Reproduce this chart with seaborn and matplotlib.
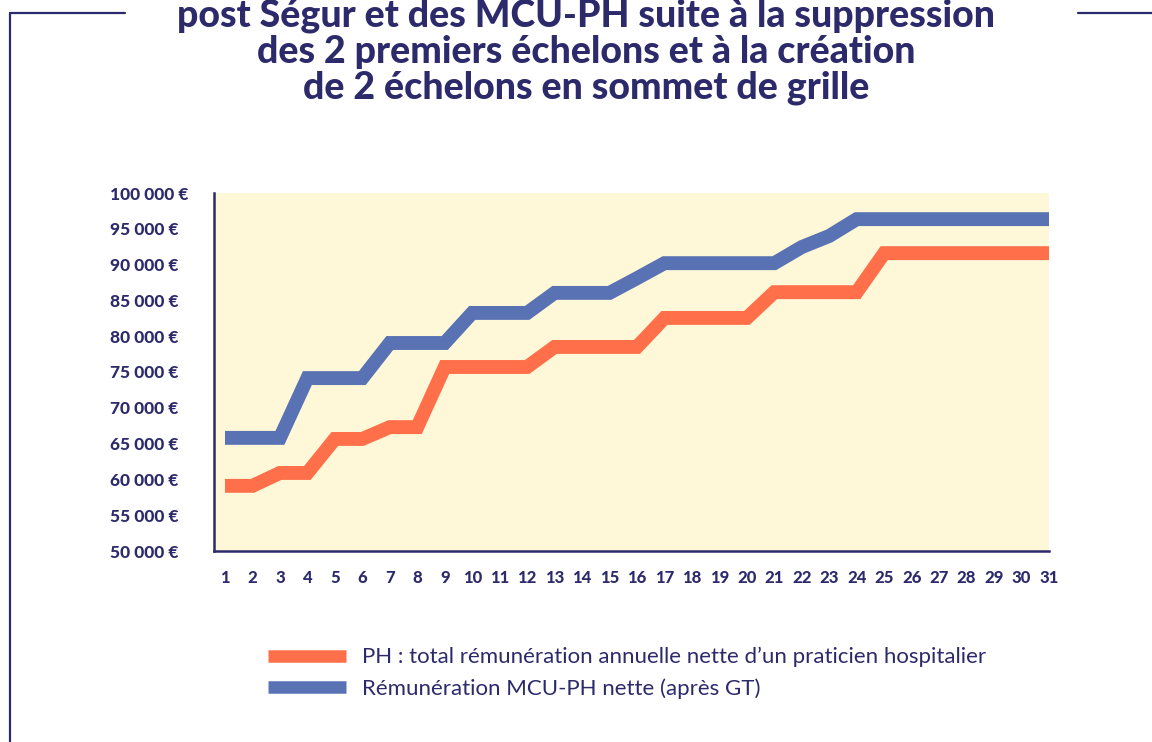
import numpy as np
import pandas as pd
import matplotlib
matplotlib.use("Agg")
import matplotlib.pyplot as plt
from matplotlib.lines import Line2D
import seaborn as sb

# donnees
echelons = list(range(1, 32))
ph = [59100, 59100, 60900, 60900, 65650, 65650, 67300, 67300,
      75700, 75700, 75700, 75700, 78500, 78500, 78500, 78500,
      82550, 82550, 82550, 82550, 86150, 86150, 86150, 86150,
      91600, 91600, 91600, 91600, 91600, 91600, 91600]
mcu = [65800, 65800, 65800, 74150, 74150, 74150, 79050, 79050, 79050,
       83250, 83250, 83250, 86050, 86050, 86050, 88100,
       90200, 90200, 90200, 90200, 90200, 92450, 94000,
       96350, 96350, 96350, 96350, 96350, 96350, 96350, 96350]
y_ticks = [50000, 55000, 60000, 65000, 70000, 75000, 80000, 85000, 90000, 95000, 100000]
lab_ph = "PH : total rémunération annuelle nette d\u2019un praticien hospitalier"
lab_mcu = "Rémunération MCU-PH nette (après GT)"
titre = ("post Ségur et des MCU-PH suite à la suppression\n"
         "des 2 premiers échelons et à la création\n"
         "de 2 échelons en sommet de grille")

navy = "#2c2a6b"
rouge = "#ff6f4a"
bleu = "#5872b4"

df = pd.DataFrame({"echelon": echelons * 2,
                   "valeur": ph + mcu,
                   "serie": [lab_ph] * len(ph) + [lab_mcu] * len(mcu)})

sb.set_style("white")
plt.rcParams['font.family'] = ['Lato', 'DejaVu Sans']

fig = plt.figure(figsize=(11.52, 7.42), dpi=100)
ax = fig.add_axes([214/1152, 1-551/742, (1049-214)/1152, (551-193)/742])
ax.set_facecolor("#fff8d8")

sb.lineplot(data=df, x="echelon", y="valeur", hue="serie",
            palette={lab_ph: rouge, lab_mcu: bleu}, linewidth=10,
            legend=False, ax=ax, sort=False)
for l in ax.lines:
    l.set_solid_joinstyle("miter")
    l.set_solid_capstyle("butt")

ax.set_xlim(0.6, 31)
ax.set_ylim(50000, 100000)
ax.set_xticks(echelons)
ax.set_xticklabels([str(e) for e in echelons], fontsize=12, fontweight="black", color=navy)
ax.set_yticks(y_ticks)
ax.set_yticklabels([f"{v:,} €".replace(",", " ") for v in y_ticks],
                   fontsize=12.5, fontweight="black", color=navy)
ax.tick_params(axis="both", length=0)
ax.tick_params(axis="x", pad=14)
for lab in ax.get_yticklabels():
    lab.set_horizontalalignment("left")
ax.yaxis.set_tick_params(pad=75)
ax.set_xlabel("")
ax.set_ylabel("")
for s in ["top", "right"]:
    ax.spines[s].set_visible(False)
for s in ["left", "bottom"]:
    ax.spines[s].set_color(navy)
    ax.spines[s].set_linewidth(1.8)

# cadre autour du graphique
fig.add_artist(Line2D([10/1152, 125/1152], [1-13/742, 1-13/742], color=navy, lw=1.6))
fig.add_artist(Line2D([10/1152, 10/1152], [1-13/742, 0], color=navy, lw=1.6))
fig.add_artist(Line2D([1078/1152, 1], [1-13/742, 1-13/742], color=navy, lw=1.6))

fig.text(586/1152, 1-52/742, titre, ha="center", va="center", fontsize=27,
         fontweight="black", color=navy, linespacing=1.07, multialignment="center")

handles = [Line2D([], [], color=rouge, lw=9, solid_capstyle="butt"),
           Line2D([], [], color=bleu, lw=9, solid_capstyle="butt")]
fig.legend(handles, [lab_ph, lab_mcu], loc="upper left",
           bbox_to_anchor=(268/1152, 1-647/742), frameon=False,
           borderpad=0, borderaxespad=0,
           fontsize=16, labelcolor=navy, handlelength=3.5,
           handletextpad=0.72, labelspacing=0.5)

fig.savefig("out.png", dpi=100)
